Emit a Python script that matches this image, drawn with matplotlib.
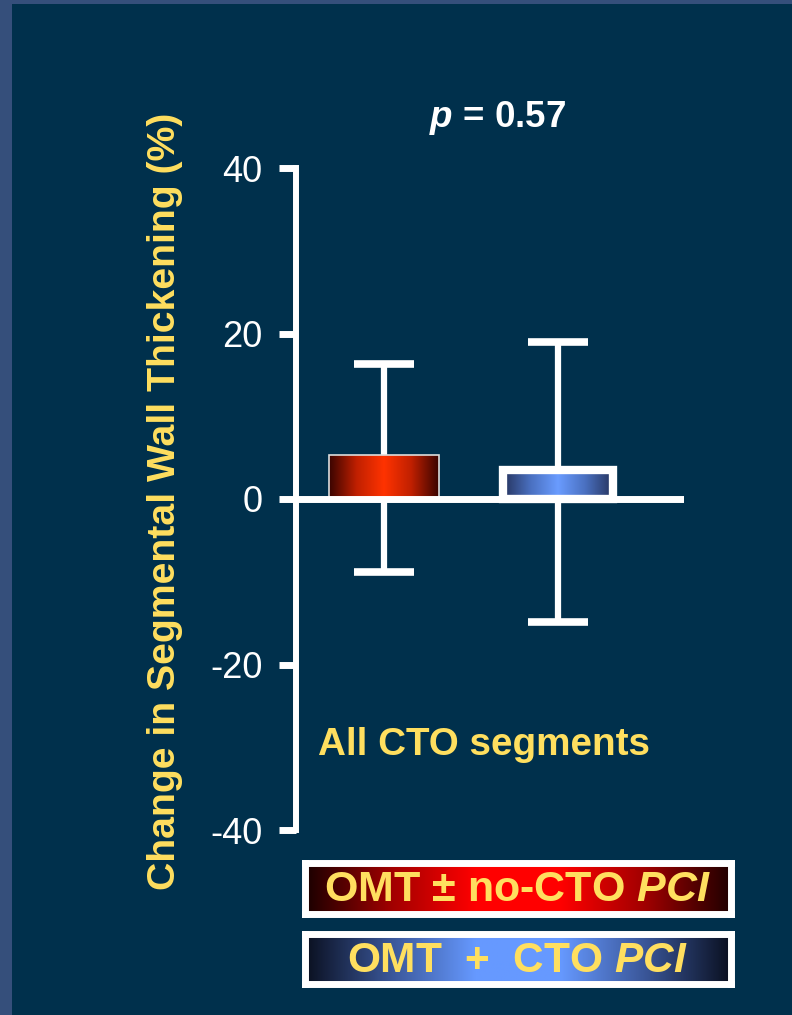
import numpy as np
import matplotlib
matplotlib.use('Agg')
import matplotlib.pyplot as plt
from matplotlib.patches import Rectangle
from matplotlib.colors import LinearSegmentedColormap

plt.rcParams['font.family'] = ['Liberation Sans', 'DejaVu Sans']
plt.rcParams['mathtext.fontset'] = 'custom'
plt.rcParams['mathtext.rm'] = 'Liberation Sans:bold'
plt.rcParams['mathtext.it'] = 'Liberation Sans:italic:bold'
plt.rcParams['mathtext.bf'] = 'Liberation Sans:bold'
plt.rcParams['axes.unicode_minus'] = False

# data
groups = ['OMT \u00b1 no-CTO PCI', 'OMT + CTO PCI']
means = [5.3, 3.5]
upper = [16.3, 19.0]   # top of error bar
lower = [-8.8, -14.9]  # bottom of error bar
yticks = [-40, -20, 0, 20, 40]
p_text = r'$\mathit{p}$ = 0.57'

navy = '#00304c'
border = '#354f7b'
yellow = '#ffdf5f'

W, H = 792, 1015
def px(x0, y0, x1, y1):
    return [x0 / W, 1 - y1 / H, (x1 - x0) / W, (y1 - y0) / H]

fig = plt.figure(figsize=(W / 100, H / 100), dpi=100, facecolor=border)
fig.add_artist(Rectangle((12 / W, 0), 1, 1 - 4 / H, transform=fig.transFigure,
                         facecolor=navy, edgecolor='none', zorder=0))

ax = fig.add_axes(px(296, 168, 684, 830))
ax.patch.set_visible(False)

red_cmap = LinearSegmentedColormap.from_list('r', ['#3a0400', '#c02000', '#ff3300', '#c02000', '#3a0400'])
blue_cmap = LinearSegmentedColormap.from_list('b', ['#26345e', '#4a70c0', '#6a9cff', '#4a70c0', '#26345e'])
cmaps = [red_cmap, blue_cmap]

xpos = np.array([1, 2])
width = 0.63
grad = np.linspace(0, 1, 256).reshape(1, -1)

# error bars first, bars cover the part inside
yerr = [np.array(means) - np.array(lower), np.array(upper) - np.array(means)]
ax.errorbar(xpos, means, yerr=yerr, fmt='none', ecolor='white', elinewidth=4.5,
            capsize=21.5, capthick=5.5, zorder=2)

bars = ax.bar(xpos, means, width=width, color='none', zorder=3)
for i, b in enumerate(bars):
    x0 = b.get_x()
    im = ax.imshow(grad, extent=[x0, x0 + width, 0, means[i]], aspect='auto',
                   cmap=cmaps[i], zorder=3)
    im.set_clip_path(b)
    if i == 0:
        b.set_edgecolor('#dddddd'); b.set_linewidth(1.2)
    else:
        b.set_edgecolor('white'); b.set_linewidth(6)
    b.set_zorder(4)

ax.axhline(0, color='white', lw=5, zorder=5, solid_capstyle='butt')

ax.set_xlim(0.494, 2.724)
ax.set_ylim(-40, 40)
ax.set_yticks(yticks)
ax.set_xticks([])
for s in ['top', 'right', 'bottom']:
    ax.spines[s].set_visible(False)
ax.spines['left'].set_color('white')
ax.spines['left'].set_linewidth(4.3)
ax.spines['left'].set_capstyle('projecting')
ax.tick_params(axis='y', colors='white', width=5, length=12, pad=12, labelsize=26)

fig.text(498 / W, 1 - 127 / H, p_text, color='white', fontsize=26.5,
         fontweight='bold', ha='center', va='baseline')
fig.text(318 / W, 1 - 755 / H, 'All CTO segments', color=yellow, fontsize=27.8,
         fontweight='bold', ha='left', va='baseline')
fig.text(165 / W, 1 - 501 / H, 'Change in Segmental Wall Thickening (%)', color=yellow,
         fontsize=28.3, fontweight='bold', rotation=90, ha='center', va='center')

# legend boxes
leg_cmaps = [
    LinearSegmentedColormap.from_list('lr', ['#1a0000', '#a00000', '#ff0000', '#ff0000', '#a00000', '#200000']),
    LinearSegmentedColormap.from_list('lb', ['#0a1020', '#3a5698', '#6699ff', '#6699ff', '#3a5698', '#0a1020']),
]
leg_labels = [r'OMT $\mathit{\pm}$ no-CTO $\mathit{PCI}$', r'OMT  +  CTO $\mathit{PCI}$']
leg_sizes = [31, 30.5]
leg_rects = [(304.5, 862.5, 730.5, 913.5), (304.5, 933.5, 730.5, 983.5)]
for cm, lab, fs, r in zip(leg_cmaps, leg_labels, leg_sizes, leg_rects):
    lax = fig.add_axes(px(*r))
    lax.imshow(grad, extent=[0, 1, 0, 1], aspect='auto', cmap=cm)
    lax.set_xlim(0, 1); lax.set_ylim(0, 1)
    lax.set_xticks([]); lax.set_yticks([])
    for s in lax.spines.values():
        s.set_color('white'); s.set_linewidth(5)
    lax.text(0.5, 0.46, lab, color=yellow, fontsize=fs, fontweight='bold',
             ha='center', va='center', transform=lax.transAxes)

fig.savefig('out.png', dpi=100, facecolor=fig.get_facecolor())
